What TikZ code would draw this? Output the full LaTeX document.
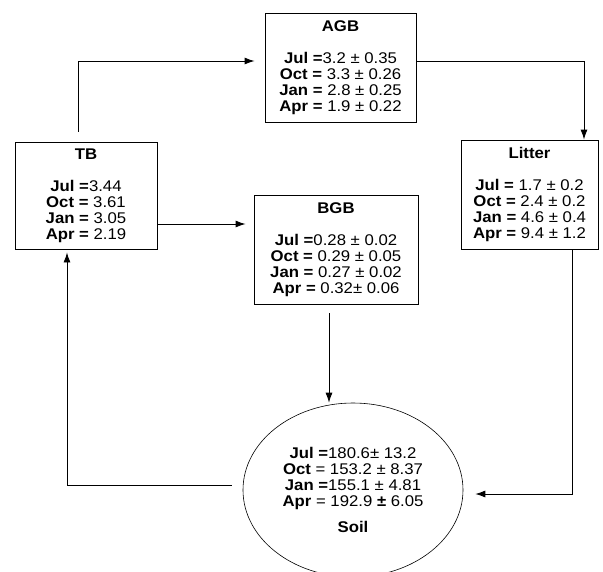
\documentclass[tikz,border=0pt]{standalone}
\usepackage{fontspec}
\setmainfont{Liberation Sans}[FakeStretch=1.08]
\usepackage{tikz}
\usetikzlibrary{shapes,arrows.meta}

\begin{document}
\begin{tikzpicture}[x=1pt,y=-1pt]
      \tikzstyle{pool}=[draw,line width=0.9pt,rectangle,align=center,inner sep=0pt,
        font=\fontsize{15.5}{16}\selectfont]
      \tikzstyle{flow}=[line width=0.9pt,-{Latex[length=10pt,width=7pt]}]
      \useasboundingbox (0,0) rectangle (603,571);
      \node[pool,minimum width=151pt,minimum height=109pt] (agb) at (340.5,67.5)
        {\textbf{AGB}\\[16pt]\textbf{Jul =}3.2 ± 0.35\\\textbf{Oct =} 3.3 ± 0.26\\
         \textbf{Jan =} 2.8 ± 0.25\\\textbf{Apr =} 1.9 ± 0.22};
      \node[pool,minimum width=142pt,minimum height=107pt] (tb) at (86,195.5)
        {\textbf{TB}\\[16pt]\textbf{Jul =}3.44\\\textbf{Oct =} 3.61\\
         \textbf{Jan =} 3.05\\\textbf{Apr =} 2.19};
      \node[pool,minimum width=164pt,minimum height=109pt] (bgb) at (336,249.5)
        {\textbf{BGB}\\[16pt]\textbf{Jul =}0.28 ± 0.02\\\textbf{Oct =} 0.29 ± 0.05\\
         \textbf{Jan =} 0.27 ± 0.02\\\textbf{Apr =} 0.32± 0.06};
      \node[pool,minimum width=137pt,minimum height=109pt] (litter) at (529.5,194.5)
        {\textbf{Litter}\\[16pt]\textbf{Jul =} 1.7 ± 0.2\\\textbf{Oct =} 2.4 ± 0.2\\
         \textbf{Jan =} 4.6 ± 0.4\\\textbf{Apr =} 9.4 ± 1.2};
      \node[pool,ellipse,line width=0.6pt,minimum width=220pt,minimum height=174pt] (soil) at (353,490)
        {\textbf{Jul =}180.6± 13.2\\\textbf{Oct} = 153.2 ± 8.37\\
         \textbf{Jan =}155.1 ± 4.81\\\textbf{Apr} = 192.9 \textbf{±} 6.05\\[10pt]\textbf{Soil}};
      % connectors
      \coordinate (tbtop) at ([xshift=-8pt]tb.north);
      \coordinate (agbin) at ([yshift=6.5pt]agb.west);
      \coordinate (agbout) at ([yshift=6.5pt]agb.east);
      \coordinate (litin) at ([xshift=54.5pt]litter.north);
      \coordinate (tbout) at ([yshift=-28.5pt]tb.east);
      \coordinate (bgbout) at ([xshift=-7pt]bgb.south);
      \coordinate (litout) at ([xshift=42.5pt]litter.south);
      \coordinate (soilin) at ([yshift=-4pt]soil.east);
      \coordinate (soilout) at ([yshift=5pt]soil.west);
      \coordinate (tbin) at ([xshift=-19pt]tb.south);
      \draw[flow,shorten <=10pt,shorten >=10pt] (tbtop) |- (agbin);
      \draw[flow] (agbout) -| (litin);
      \draw[flow,shorten >=8pt] (tbout) -- (tbout -| bgb.west);
      \draw[flow,shorten <=9pt] (bgbout) -- (bgbout |- soil.north);
      \draw[flow,shorten >=12pt] (litout) |- (soilin);
      \draw[flow,shorten <=11pt,shorten >=3pt] (soilout) -| (tbin);
\end{tikzpicture}
\end{document}
